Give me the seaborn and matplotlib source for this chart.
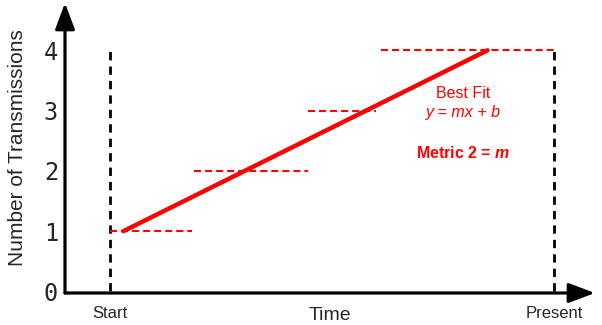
import matplotlib
matplotlib.use("Agg")
import matplotlib.pyplot as plt
import seaborn as sns

# data (x: Start = 0, Present = 10)
step_levels = [1, 2, 3, 4]
step_starts = [0.0, 1.9, 4.45, 6.1]
step_ends = [1.85, 4.45, 6.0, 10.0]
fit_x = [0.3, 8.5]
fit_y = [1, 4]
y_ticks = [0, 1, 2, 3, 4]
x_ticks = [0, 10]
x_ticklabels = ["Start", "Present"]

sns.set_theme(style="white")
plt.rcParams["font.family"] = ["Liberation Sans", "DejaVu Sans"]
plt.rcParams["mathtext.fontset"] = "custom"
plt.rcParams["mathtext.bfit"] = "Liberation Sans:italic:bold"

red = "#ff0000"

fig = plt.figure(figsize=(6.02, 3.25), dpi=100)
ax = fig.add_axes([65 / 602, (325 - 293) / 325, (595 - 65) / 602, (293 - 3) / 325])
ax.set_xlim(-1.014, 10.92)
ax.set_ylim(-0.025, 4.784)

# start / present markers
ax.vlines(x_ticks, 0, 4, colors="black", linewidth=2.0, linestyles=(0, (3.0, 2.2)))

# step levels
ax.hlines(step_levels, step_starts, step_ends, colors=red, linewidth=1.5,
          linestyles=(0, (3.4, 1.9)))

# best fit line
sns.lineplot(x=fit_x, y=fit_y, ax=ax, color=red, linewidth=3.2)

ax.text(7.95, 3.29, "Best Fit", color=red, fontsize=11.5, ha="center", va="center")
ax.text(7.95, 2.96, "y = mx + b", color=red, fontsize=11.5, ha="center", va="center",
        style="italic")
ax.text(7.95, 2.30, r"Metric 2 = $\mathbfit{m}$", color=red, fontsize=11.5,
        ha="center", va="center", fontweight="bold")

# axes with arrows
for sp in ax.spines.values():
    sp.set_visible(False)
arrow = dict(arrowstyle="-|>,head_length=16,head_width=6", mutation_scale=1,
             color="black", lw=2.3, shrinkA=0, shrinkB=0)
ax.annotate("", xy=(1, 0), xytext=(0, 0), xycoords="axes fraction", arrowprops=arrow)
ax.annotate("", xy=(0, 1), xytext=(0, 0), xycoords="axes fraction", arrowprops=arrow)

ax.set_yticks(y_ticks)
ax.set_yticklabels([str(v) for v in y_ticks], fontfamily="DejaVu Sans Mono", fontsize=17)
ax.set_xticks(x_ticks)
ax.set_xticklabels(x_ticklabels, fontsize=12)
ax.tick_params(axis="y", length=0, pad=5)
ax.tick_params(axis="x", length=0, pad=9)

ax.set_xlabel("Time", fontsize=14, labelpad=-10)
ax.set_ylabel("Number of Transmissions", fontsize=15, labelpad=12)

fig.savefig("out.png", dpi=100)
